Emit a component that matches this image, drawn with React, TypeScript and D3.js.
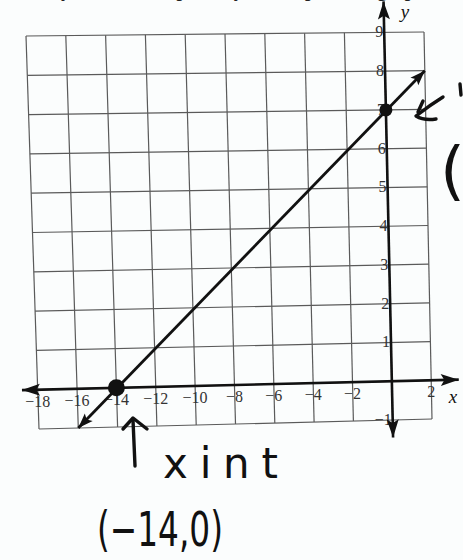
import React from "react";
import * as d3 from "d3";

// Coordinate plane: x from -18 to 2 (2 units per cell), y from -1 to 9
const xGrid = [-18, -16, -14, -12, -10, -8, -6, -4, -2, 0, 2];
const yGrid = [-1, 0, 1, 2, 3, 4, 5, 6, 7, 8, 9];
const xTickLabels = [-18, -16, -14, -12, -10, -8, -6, -4, -2, 2];
const yTickLabels = [-1, 1, 2, 3, 4, 5, 6, 7, 8, 9];

// Graphed line y = 0.5x + 7, drawn from x = -16 to x = 2
const lineSlope = 0.5;
const lineIntercept = 7;
const lineXRange = [-16, 2];

// Marked points: x-intercept and y-intercept
const interceptPoints = [
  { x: -14, y: 0, r: 8.5 },
  { x: 0, y: 7, r: 6.5 },
];

const W = 463;
const H = 560;

// Sheet corners (slightly skewed page)
const TL: [number, number] = [26, 36];
const TR: [number, number] = [424, 32];
const BL: [number, number] = [39, 429];
const BR: [number, number] = [432, 419];

const sx = d3.scaleLinear().domain([-18, 2]).range([0, 1]);
const sy = d3.scaleLinear().domain([9, -1]).range([0, 1]);

const lerp = (a: [number, number], b: [number, number], t: number): [number, number] => [
  a[0] + (b[0] - a[0]) * t,
  a[1] + (b[1] - a[1]) * t,
];

function P(u: number, v: number): [number, number] {
  const s = sx(u);
  const t = sy(v);
  const top = lerp(TL, TR, s);
  const bot = lerp(BL, BR, s);
  return lerp(top, bot, t);
}

function arrowHead(tip: [number, number], from: [number, number], len: number, half: number) {
  const dx = tip[0] - from[0];
  const dy = tip[1] - from[1];
  const d = Math.hypot(dx, dy);
  const ux = dx / d;
  const uy = dy / d;
  const bx = tip[0] - ux * len;
  const by = tip[1] - uy * len;
  const pts = [
    tip,
    [bx - uy * half, by + ux * half],
    [tip[0] - ux * len * 0.8, tip[1] - uy * len * 0.8],
    [bx + uy * half, by - ux * half],
  ];
  return pts.map((p) => p.join(",")).join(" ");
}

const fmt = (v: number) => (v < 0 ? "\u2212" + Math.abs(v) : String(v));

export default function App() {
  const line = d3.line<[number, number]>().x((d) => d[0]).y((d) => d[1]);

  // axes in data units
  const xAxisA = P(-18.8, 0);
  const xAxisB = P(3.4, 0);
  const yAxisA = P(0, -1.45);
  const yAxisB = P(0, 9.8);

  const l0 = P(lineXRange[0], lineSlope * lineXRange[0] + lineIntercept);
  const l1 = P(lineXRange[1], lineSlope * lineXRange[1] + lineIntercept);

  const serif = "'Liberation Serif', 'Times New Roman', serif";
  const hand = "'DejaVu Sans', sans-serif";

  return (
    <svg
      width={W}
      height={H}
      viewBox={`0 0 ${W} ${H}`}
      style={{ position: "absolute", left: 0, top: 0, display: "block" }}
    >
      <rect x={0} y={0} width={W} height={H} fill="#fbfdfd" />

      {/* worksheet instruction line, cut at the top */}
      <text x={6} y={-3} fontFamily={serif} fontWeight="bold" fontSize={19} fill="#222">
        Identify the x-intercept and y-intercept of the graph.
      </text>

      {/* grid */}
      <g stroke="#5a5a5a" strokeWidth={1.2} fill="none">
        {xGrid.map((u) => (
          <path key={"gx" + u} d={line([P(u, -1), P(u, 9)])!} />
        ))}
        {yGrid.map((v) => (
          <path key={"gy" + v} d={line([P(-18, v), P(2, v)])!} />
        ))}
      </g>

      {/* tick labels */}
      <g fontFamily={serif} fontSize={16} fill="#333">
        {xTickLabels.map((u) => {
          const p = P(u, 0);
          return (
            <text key={"xl" + u} x={p[0]} y={p[1] + 17} textAnchor="middle">
              {fmt(u)}
            </text>
          );
        })}
        {yTickLabels.map((v) => {
          const p = P(0, v);
          return (
            <text key={"yl" + v} x={p[0] - 1} y={p[1] + 5} textAnchor="end">
              {fmt(v)}
            </text>
          );
        })}
      </g>

      {/* axes */}
      <g stroke="#111" strokeWidth={2.6} fill="none">
        <path d={line([xAxisA, xAxisB])!} />
        <path d={line([yAxisA, yAxisB])!} />
      </g>
      <g fill="#111">
        <polygon points={arrowHead(xAxisA, xAxisB, 18, 6)} />
        <polygon points={arrowHead(xAxisB, xAxisA, 18, 6)} />
        <polygon points={arrowHead(yAxisA, yAxisB, 18, 6)} />
        <polygon points={arrowHead(yAxisB, yAxisA, 18, 6)} />
      </g>
      <text x={453} y={403} fontFamily={serif} fontStyle="italic" fontSize={19} fill="#111" textAnchor="middle">
        x
      </text>
      <text x={405} y={18} fontFamily={serif} fontStyle="italic" fontSize={19} fill="#111" textAnchor="middle">
        y
      </text>

      {/* graphed line */}
      <path d={line([l0, l1])!} stroke="#111" strokeWidth={2.8} fill="none" />
      <g fill="#111">
        <polygon points={arrowHead(l0, l1, 15, 5.5)} />
        <polygon points={arrowHead(l1, l0, 15, 5.5)} />
      </g>
      {interceptPoints.map((d) => {
        const p = P(d.x, d.y);
        return <circle key={"pt" + d.x} cx={p[0]} cy={p[1]} r={d.r} fill="#111" />;
      })}

      {/* handwritten notes */}
      <g stroke="#111" strokeWidth={3.4} strokeLinecap="round" strokeLinejoin="round" fill="none">
        <path d="M135,466 L133,420" />
        <path d="M123,429 L133,418 L147,429" />
        <path d="M443,97 Q430,105 416,116 Q424,121 436,119" />
        <path d="M423,101 L418,112" />
        <path d="M460,84 L461,95" />
      </g>
      <g fontFamily={hand} fill="#111">
        <text x={163} y={478} fontSize={42} textLength={115} lengthAdjust="spacing">
          xint
        </text>
        <text x={97} y={546} fontSize={48} textLength={126} lengthAdjust="spacingAndGlyphs">
          (−14,0)
        </text>
        <text x={440} y={193} fontSize={64}>
          (0,7)
        </text>
      </g>
    </svg>
  );
}
